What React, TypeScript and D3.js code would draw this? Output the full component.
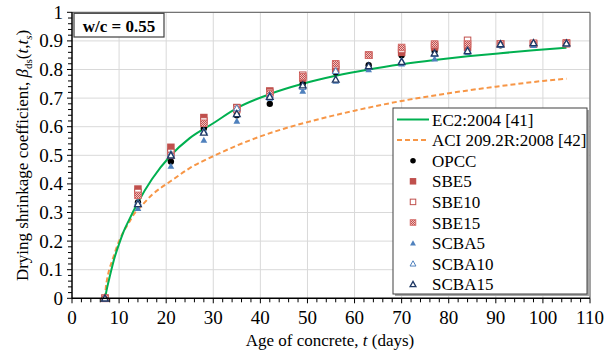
import React from "react";
import * as d3 from "d3";

const ages = [7, 14, 21, 28, 35, 42, 49, 56, 63, 70, 77, 84, 91, 98, 105];
const opcc = [0, 0.335, 0.478, 0.595, 0.64, 0.68, 0.75, 0.79, 0.815, 0.85, 0.865, 0.875, 0.885, 0.89, 0.89];
const sbe5 = [0, 0.382, 0.528, 0.632, 0.667, 0.725, 0.77, 0.8, 0.85, 0.86, 0.879, 0.877, 0.889, 0.889, 0.893];
const sbe10 = [0, 0.37, 0.51, 0.62, 0.665, 0.72, 0.78, 0.815, 0.85, 0.87, 0.885, 0.902, 0.89, 0.89, 0.89];
const sbe15 = [0, 0.36, 0.5, 0.612, 0.66, 0.715, 0.775, 0.82, 0.85, 0.877, 0.889, 0.889, 0.889, 0.892, 0.893];
const scba5 = [0, 0.315, 0.462, 0.553, 0.62, 0.7, 0.725, 0.76, 0.8, 0.82, 0.837, 0.86, 0.885, 0.885, 0.89];
const scba10 = [0, 0.335, 0.505, 0.585, 0.665, 0.71, 0.74, 0.795, 0.81, 0.83, 0.855, 0.868, 0.889, 0.893, 0.892];
const scba15 = [0, 0.33, 0.5, 0.58, 0.645, 0.705, 0.745, 0.765, 0.812, 0.827, 0.857, 0.865, 0.889, 0.893, 0.892];

const ec2T = [7, 7.5, 8, 9, 10, 11, 12, 14, 17, 21, 25, 30, 35, 42, 49, 56, 63, 70, 77, 84, 91, 98, 105];
const ec2V = [0, 0.04, 0.075, 0.14, 0.19, 0.235, 0.27, 0.335, 0.417, 0.5, 0.56, 0.612, 0.665, 0.714, 0.75, 0.778, 0.8, 0.818, 0.833, 0.846, 0.857, 0.867, 0.876];

const aciT = [7, 7.2, 7.5, 7.9, 8.5, 9, 10, 11, 12, 13.4, 14, 17, 21, 25, 30, 35, 40, 45, 50, 55, 60, 70, 80, 90, 100, 105];
const aciV = [0, 0.04, 0.07, 0.1, 0.13, 0.155, 0.2, 0.235, 0.262, 0.3, 0.31, 0.362, 0.41, 0.455, 0.497, 0.534, 0.566, 0.593, 0.616, 0.637, 0.656, 0.69, 0.717, 0.74, 0.76, 0.768];

const xTicks = [0, 10, 20, 30, 40, 50, 60, 70, 80, 90, 100, 110];
const yTicks = [0, 0.1, 0.2, 0.3, 0.4, 0.5, 0.6, 0.7, 0.8, 0.9, 1];

const RED = "#C0504D";
const BLUE = "#4F81BD";
const NAVY = "#1F3864";

type Kind = "circle" | "sqFill" | "sqHollow" | "sqPattern" | "triFill" | "triHollow" | "triDark";

const seriesList: { name: string; vals: number[]; kind: Kind }[] = [
  { name: "OPCC", vals: opcc, kind: "circle" },
  { name: "SBE5", vals: sbe5, kind: "sqFill" },
  { name: "SBE10", vals: sbe10, kind: "sqHollow" },
  { name: "SBE15", vals: sbe15, kind: "sqPattern" },
  { name: "SCBA5", vals: scba5, kind: "triFill" },
  { name: "SCBA10", vals: scba10, kind: "triHollow" },
  { name: "SCBA15", vals: scba15, kind: "triDark" },
];

function Marker({ kind, cx, cy, s }: { kind: Kind; cx: number; cy: number; s: number }) {
  const h = s / 2;
  const th = h * 0.9;
  const tri = `M${cx},${cy - th} L${cx + th},${cy + th * 0.8} L${cx - th},${cy + th * 0.8} Z`;
  switch (kind) {
    case "circle":
      return <circle cx={cx} cy={cy} r={h * 0.85} fill="#000" />;
    case "sqFill":
      return <rect x={cx - h} y={cy - h} width={s} height={s} fill={RED} />;
    case "sqHollow":
      return <rect x={cx - h + 0.5} y={cy - h + 0.5} width={s - 1} height={s - 1} fill="#fff" stroke={RED} strokeWidth={1} />;
    case "sqPattern":
      return <rect x={cx - h + 0.5} y={cy - h + 0.5} width={s - 1} height={s - 1} fill="url(#chk)" stroke="#D46A67" strokeWidth={1} />;
    case "triFill":
      return <path d={tri} fill={BLUE} />;
    case "triHollow":
      return <path d={tri} fill="#fff" stroke={BLUE} strokeWidth={1} />;
    case "triDark":
      return <path d={tri} fill="#fff" stroke={NAVY} strokeWidth={1.3} />;
  }
}

export default function App() {
  const x = d3.scaleLinear().domain([0, 110]).range([72, 590]);
  const y = d3.scaleLinear().domain([0, 1]).range([298.3, 12.3]);
  const line = d3
    .line<[number, number]>()
    .x((d) => x(d[0]))
    .y((d) => y(d[1]))
    .curve(d3.curveMonotoneX);
  const ec2 = line(ec2T.map((t, i) => [t, ec2V[i]] as [number, number])) || "";
  const aci = line(aciT.map((t, i) => [t, aciV[i]] as [number, number])) || "";

  const xMinor = d3.range(0, 111, 2);
  const yMinor = d3.range(0, 51).map((i) => i * 0.02);
  const font = "'Liberation Serif', 'Times New Roman', serif";

  const legX = 393;
  const legY = 108;
  const legW = 194;
  const legH = 186;
  const rowY = (i: number) => 119.5 + i * 20.6;

  return (
    <svg width={604} height={353} style={{ position: "absolute", left: 0, top: 0 }} fontFamily={font}>
      <defs>
        <pattern id="chk" width={2} height={2} patternUnits="userSpaceOnUse">
          <rect width={2} height={2} fill="#F2C4C3" />
          <rect width={1} height={1} fill={RED} />
          <rect x={1} y={1} width={1} height={1} fill={RED} />
        </pattern>
      </defs>
      <rect width={604} height={353} fill="#fff" />
      {/* grid */}
      {xTicks.slice(1).map((t) => (
        <line key={"gx" + t} x1={x(t)} x2={x(t)} y1={y(0)} y2={y(1)} stroke="#D9D9D9" strokeWidth={1} />
      ))}
      {yTicks.slice(1).map((t) => (
        <line key={"gy" + t} x1={x(0)} x2={x(110)} y1={y(t)} y2={y(t)} stroke="#D9D9D9" strokeWidth={1} />
      ))}
      {/* frame */}
      <line x1={x(0)} x2={x(110)} y1={y(1)} y2={y(1)} stroke="#595959" strokeWidth={1} />
      <line x1={x(110)} x2={x(110)} y1={y(1)} y2={y(0)} stroke="#595959" strokeWidth={1} />

      {/* curves */}
      <path d={aci} fill="none" stroke="#F79646" strokeWidth={2} strokeDasharray="5,3" />
      <path d={ec2} fill="none" stroke="#00B050" strokeWidth={2} />

      {/* markers */}
      {seriesList.map((s) => (
        <g key={s.name}>
          {ages.map((t, i) => (
            <Marker key={i} kind={s.kind} cx={x(t)} cy={y(s.vals[i])} s={7.5} />
          ))}
        </g>
      ))}

      {/* axes */}
      <line x1={x(0)} x2={x(110)} y1={y(0)} y2={y(0)} stroke="#000" strokeWidth={1.5} />
      <line x1={x(0)} x2={x(0)} y1={y(0)} y2={y(1)} stroke="#000" strokeWidth={1.5} />
      {xMinor.map((t) => (
        <line key={"xm" + t} x1={x(t)} x2={x(t)} y1={y(0)} y2={y(0) + (t % 10 === 0 ? 5 : 4)} stroke="#000" strokeWidth={1} />
      ))}
      {yMinor.map((t, i) => (
        <line key={"ym" + i} x1={x(0) - (i % 5 === 0 ? 5 : 4)} x2={x(0)} y1={y(t)} y2={y(t)} stroke="#000" strokeWidth={1} />
      ))}
      {xTicks.map((t) => (
        <text key={"xl" + t} x={x(t)} y={323.5} fontSize={19} textAnchor="middle" fill="#000">
          {t}
        </text>
      ))}
      {yTicks.map((t) => (
        <text key={"yl" + t} x={63} y={y(t) + 6.5} fontSize={19} textAnchor="end" fill="#000">
          {String(t)}
        </text>
      ))}

      {/* axis titles */}
      <text x={330} y={346} fontSize={17} textAnchor="middle" fill="#000">
        Age of concrete, <tspan fontStyle="italic">t</tspan> (days)
      </text>
      <text transform="translate(27.5,155.5) rotate(-90)" fontSize={17} textAnchor="middle" fill="#000">
        Drying shrinkage coefficient, <tspan fontStyle="italic">β</tspan>
        <tspan fontSize={11} dy={4}>ds</tspan>
        <tspan dy={-4}>(</tspan>
        <tspan fontStyle="italic">t</tspan>,<tspan fontStyle="italic">t</tspan>
        <tspan fontSize={11} fontStyle="italic" dy={4}>s</tspan>
        <tspan dy={-4}>)</tspan>
      </text>

      {/* w/c box */}
      <rect x={74} y={13.3} width={90} height={23.7} fill="#fff" stroke="#404040" strokeWidth={1.2} />
      <text x={119} y={31.5} fontSize={17} fontWeight="bold" textAnchor="middle" fill="#000">
        w/c = 0.55
      </text>

      {/* legend */}
      <rect x={legX + 2} y={legY + 2} width={legW} height={legH} fill="#A6A6A6" />
      <rect x={legX} y={legY} width={legW} height={legH} fill="#fff" stroke="#404040" strokeWidth={1} />
      <line x1={397} x2={429} y1={rowY(0)} y2={rowY(0)} stroke="#00B050" strokeWidth={2} />
      <text x={432} y={rowY(0) + 6} fontSize={17} fill="#000">EC2:2004 [41]</text>
      <line x1={397} x2={429} y1={rowY(1)} y2={rowY(1)} stroke="#F79646" strokeWidth={2} strokeDasharray="5,3" />
      <text x={432} y={rowY(1) + 6} fontSize={17} fill="#000">ACI 209.2R:2008 [42]</text>
      {seriesList.map((s, i) => (
        <g key={"lg" + s.name}>
          <Marker kind={s.kind} cx={413} cy={rowY(i + 2)} s={6.5} />
          <text x={432} y={rowY(i + 2) + 6} fontSize={17} fill="#000">
            {s.name}
          </text>
        </g>
      ))}
    </svg>
  );
}
